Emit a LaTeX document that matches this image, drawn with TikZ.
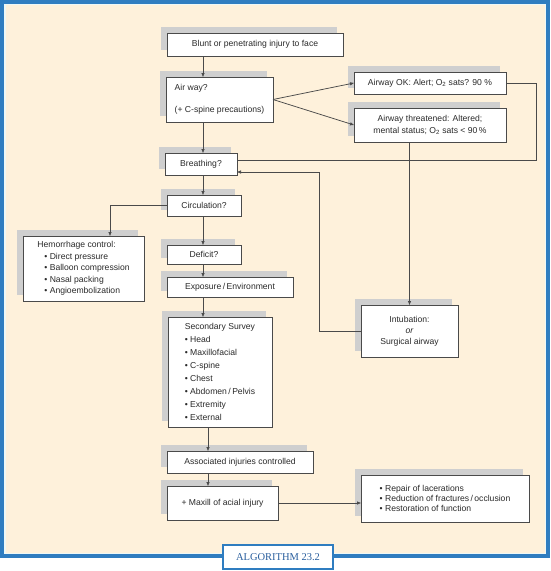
\documentclass[tikz,border=0pt]{standalone}
\usepackage{fontspec}
\setmainfont{Liberation Sans}
\newfontfamily\labelfont{Liberation Serif}
\usetikzlibrary{arrows.meta,shadows,calc}
\definecolor{cream}{HTML}{FEF1DB}
\definecolor{frameblue}{HTML}{2F7DC0}
\definecolor{labelblue}{HTML}{2A5F9E}
\definecolor{innerline}{HTML}{EEF8F6}
\definecolor{shade}{HTML}{CFCFCF}
\definecolor{ink}{HTML}{4A4A4A}
\definecolor{txt}{HTML}{2A2A2A}
\begin{document}
\begin{tikzpicture}[x=1pt,y=-1pt,
  box/.style={draw=ink, fill=white, line width=0.8pt, outer sep=0pt, inner sep=2pt,
    anchor=north west, text=txt, font=\fontsize{8.6}{10.3}\selectfont,
    general shadow={fill=shade, shadow xshift=-6pt, shadow yshift=6pt}},
  conn/.style={draw=ink, line width=0.75pt},
  arr/.style={conn, -{Triangle[length=4pt,width=3pt]}},
]
\useasboundingbox (0,0) rectangle (550,571);
\fill[white] (0,0) rectangle (550,571);
\fill[frameblue] (0,0) rectangle (550,558);
\fill[innerline] (4,3.5) rectangle (546,554);
\fill[cream] (5.5,5) rectangle (544.5,552.5);

\coordinate (sp) at (203,0);
\coordinate (sp2) at (208,0);

\node[box, minimum width=176pt, minimum height=23pt] (b1) at (167,33) {Blunt or penetrating injury to face};
\node[box, minimum width=107pt, minimum height=45pt, align=left] (air) at (166,77) {Air way?\\[11.7pt](+ C-spine precautions)};
\node[box, minimum width=152pt, minimum height=22pt] (ok) at (354,72) {Airway OK: Alert; O\textsubscript{2} sats? 90 \%};
\node[box, minimum width=152pt, minimum height=34pt, align=center, font=\fontsize{8.6}{11.5}\selectfont] (thr) at (354,108) {Airway threatened: Altered;\\mental status; O\textsubscript{2} sats < 90\,\%};
\node[box, minimum width=72pt, minimum height=22pt] (br) at (165,153) {Breathing?};
\node[box, minimum width=74pt, minimum height=21pt] (circ) at (167,195) {Circulation?};
\node[box, minimum width=121pt, minimum height=65pt, align=left, font=\fontsize{8.6}{11.5}\selectfont] (hem) at (23,236) {Hemorrhage control:\\\hspace*{7pt}\textbullet\ Direct pressure\\\hspace*{7pt}\textbullet\ Balloon compression\\\hspace*{7pt}\textbullet\ Nasal packing\\\hspace*{7pt}\textbullet\ Angioembolization};
\node[box, minimum width=74pt, minimum height=19pt] (def) at (167,245) {Deficit?};
\node[box, minimum width=126pt, minimum height=20pt] (exp) at (167,277) {Exposure\,/\,Environment};
\node[box, minimum width=104pt, minimum height=110pt, align=left, font=\fontsize{8.6}{12.9}\selectfont] (sec) at (168,317) {Secondary Survey\\\textbullet\ Head\\\textbullet\ Maxillofacial\\\textbullet\ C-spine\\\textbullet\ Chest\\\textbullet\ Abdomen\,/\,Pelvis\\\textbullet\ Extremity\\\textbullet\ External};
\node[box, minimum width=97pt, minimum height=52pt, align=center, font=\fontsize{8.6}{11}\selectfont] (intub) at (361,305) {Intubation:\\\textit{or}\\Surgical airway};
\node[box, minimum width=146pt, minimum height=22pt] (assoc) at (167,451) {Associated injuries controlled};
\node[box, minimum width=111pt, minimum height=34pt] (max) at (167,486) {+ Maxill of acial injury};
\node[box, minimum width=168pt, minimum height=47pt, align=left, font=\fontsize{8.6}{10.2}\selectfont] (rep) at (361,475) {\textbullet\ Repair of lacerations\\\textbullet\ Reduction of fractures\,/\,occlusion\\\textbullet\ Restoration of function};

\node[draw=frameblue, line width=1.3pt, fill=white, anchor=north west, outer sep=0pt,
  minimum width=110pt, minimum height=24pt, text=labelblue,
  font=\labelfont\fontsize{10.5}{12}\selectfont] (alg) at (223,545) {ALGORITHM 23.2};

% connectors
\draw[arr] (b1.south -| sp) -- (air.north -| sp);
\draw[arr] (air.east) -- (ok.west);
\draw[arr] (air.east) -- (thr.west);
\draw[arr] (air.south -| sp) -- (br.north -| sp);
\draw[conn] (ok.east) -- ++(30,0) |- ($(br.north east)+(0,7)$);
\draw[arr] (thr.south -| intub.north) -- (intub.north);
\draw[arr] (intub.west) -- ++(-42,0) |- ($(br.south east)+(0,-3)$);
\draw[arr] (br.south -| sp) -- (circ.north -| sp);
\draw[arr] (circ.west) -| ($(hem.north)+(26.5,0)$);
\draw[arr] (circ.south -| sp) -- (def.north -| sp);
\draw[arr] (def.south -| sp) -- (exp.north -| sp);
\draw[arr] (exp.south -| sp) -- (sec.north -| sp);
\draw[arr] (sec.south -| sp2) -- (assoc.north -| sp2);
\draw[arr] (assoc.south -| sp2) -- (max.north -| sp2);
\draw[arr] (max.east) -- (max.east -| rep.west);
\end{tikzpicture}
\end{document}
